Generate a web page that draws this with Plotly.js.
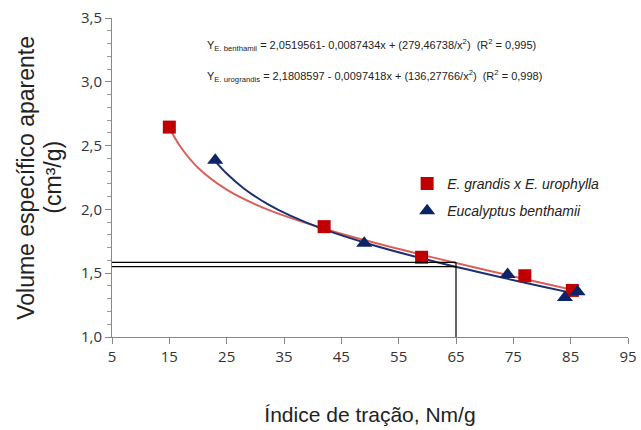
<!DOCTYPE html>
<html>
<head>
<meta charset="utf-8">
<script src="https://cdn.plot.ly/plotly-3.0.1.min.js"></script>
<style>html,body{margin:0;padding:0;background:#fff;}#chart{width:641px;height:430px;}</style>
</head>
<body>
<div id="chart"></div>
<script>
// Observed points
const uroX = [15, 42, 59, 77, 85.3];
const uroY = [2.645, 1.865, 1.625, 1.48, 1.365];
const benX = [23, 49, 74, 84, 86.2];
const benY = [2.385, 1.735, 1.49, 1.31, 1.355];

// Fitted curves
const uroCurveX = [15, 17, 20, 25, 30, 35, 42, 50, 60, 70, 80, 86];
const uroCurveY = [2.640, 2.487, 2.327, 2.155, 2.040, 1.951, 1.849, 1.748, 1.634, 1.527, 1.423, 1.362];
const benCurveX = [23, 25, 28, 32, 36, 42, 50, 60, 70, 80, 86];
const benCurveY = [2.379, 2.281, 2.164, 2.045, 1.953, 1.843, 1.727, 1.605, 1.497, 1.396, 1.338];

// Reference lines
const refX = 65;
const refY = [1.585, 1.552];

const xTicks = [5, 15, 25, 35, 45, 55, 65, 75, 85, 95];
const yTicks = [1.0, 1.5, 2.0, 2.5, 3.0, 3.5];

const yTitleLines = ['Volume específico aparente', '(cm³/g)'];

const traces = [
  {x: uroCurveX, y: uroCurveY, mode: 'lines', line: {color: '#d9605a', width: 2, shape: 'spline'}, showlegend: false, hoverinfo: 'skip'},
  {x: benCurveX, y: benCurveY, mode: 'lines', line: {color: '#1c2f6e', width: 2, shape: 'spline'}, showlegend: false, hoverinfo: 'skip'},
  {x: uroX, y: uroY, mode: 'markers', name: '<i>E. grandis x E. urophylla</i>', legendgroup: 'a',
   marker: {symbol: 'square', size: 13, color: '#c00000'}},
  {x: benX, y: benY, mode: 'markers', name: '<i>Eucalyptus benthamii</i>', legendgroup: 'b',
   marker: {symbol: 'triangle-up', size: 14, color: '#0c2466'}}
];

const shapes = refY.map(v => ({type: 'line', xref: 'x', yref: 'y', x0: 5, x1: refX, y0: v, y1: v, line: {color: '#000', width: 1.2}}));
shapes.push({type: 'line', xref: 'x', yref: 'y', x0: refX, x1: refX, y0: 1.0, y1: Math.max(...refY), line: {color: '#000', width: 1.2}});

const eqFont = {family: 'Liberation Sans, Arial, sans-serif', size: 11, color: '#222'};
const titleFont = {family: 'Liberation Sans, Arial, sans-serif', size: 23, color: '#222'};

const layout = {
  width: 641, height: 430,
  margin: {l: 112, r: 13, t: 18, b: 93},
  paper_bgcolor: '#fff', plot_bgcolor: '#fff',
  separators: ',.',
  xaxis: {
    range: [5, 95], tickvals: xTicks, ticktext: xTicks.map(String),
    showgrid: false, zeroline: false, showline: true, linecolor: '#888', linewidth: 1,
    ticks: 'outside', ticklen: 6, tickcolor: '#888',
    tickfont: {family: 'Open Sans, sans-serif', size: 15, color: '#333'},
    title: {text: 'Índice de tração, Nm/g', font: {family: 'Liberation Sans, Arial, sans-serif', size: 21, color: '#222'}, standoff: 42}
  },
  yaxis: {
    range: [1.0, 3.5], tickvals: yTicks, tickformat: '.1f',
    showgrid: false, zeroline: false, showline: true, linecolor: '#888', linewidth: 1,
    ticks: 'outside', ticklen: 6, tickcolor: '#888',
    minor: {dtick: 0.1, ticks: 'outside', ticklen: 4, tickcolor: '#999', showgrid: false},
    tickfont: {family: 'Open Sans, sans-serif', size: 15, color: '#333'}
  },
  showlegend: true,
  legend: {x: 0.572, y: 0.53, xanchor: 'left', yanchor: 'top', bgcolor: 'rgba(0,0,0,0)',
           font: {family: 'Liberation Sans, Arial, sans-serif', size: 14, color: '#222'}, tracegroupgap: 6},
  shapes: shapes,
  annotations: [
    {xref: 'paper', yref: 'paper', x: 0.18, y: 0.915, xanchor: 'left', yanchor: 'middle', showarrow: false, font: eqFont,
     text: 'Y<sub>E. benthamii</sub> = 2,0519561- 0,0087434x + (279,46738/x<sup>2</sup>)  (R<sup>2</sup> = 0,995)'},
    {xref: 'paper', yref: 'paper', x: 0.18, y: 0.818, xanchor: 'left', yanchor: 'middle', showarrow: false, font: eqFont,
     text: 'Y<sub>E. urograndis</sub> = 2,1808597 - 0,0097418x + (136,27766/x<sup>2</sup>)  (R<sup>2</sup> = 0,998)'},
    {xref: 'paper', yref: 'paper', x: -0.168, y: 0.5, xanchor: 'center', yanchor: 'middle', showarrow: false, textangle: -90,
     font: titleFont, text: yTitleLines[0]},
    {xref: 'paper', yref: 'paper', x: -0.116, y: 0.5, xanchor: 'center', yanchor: 'middle', showarrow: false, textangle: -90,
     font: titleFont, text: yTitleLines[1]}
  ]
};

Plotly.newPlot('chart', traces, layout, {displayModeBar: false, staticPlot: true});
</script>
</body>
</html>
